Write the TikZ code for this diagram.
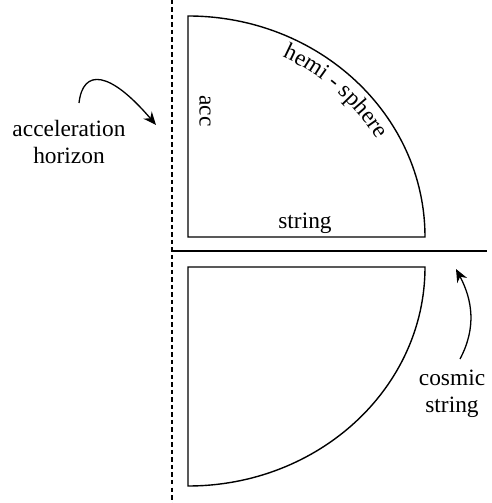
\documentclass[tikz,border=0pt]{standalone}
\usepackage{fontspec}
\setmainfont{Liberation Serif}
\usetikzlibrary{arrows.meta,decorations.text,calc}
\newcommand{\lblfont}{\fontsize{23.4}{26.5}\selectfont}
\tikzset{
  shapeline/.style={line width=1.4pt},
  horizonline/.style={line width=1.2pt,dash pattern=on 4.5pt off 3pt},
  cosmicline/.style={line width=1.3pt},
  pointer/.style={line width=1.3pt,-{Stealth[length=13pt,width=11pt]}},
  lbl/.style={inner sep=0pt,align=center},
}
\begin{document}
\begin{tikzpicture}[x=1pt,y=1pt,font=\lblfont]
\useasboundingbox (0,0) rectangle (492,503);
% lines
\coordinate (hTop) at (172,503);
\coordinate (hBot) at (172,0);
\draw[horizonline] (hTop) -- (hBot);
\coordinate (sL) at (172,252);
\coordinate (sR) at (487,252);
\draw[cosmicline] (sL) -- (sR);
% top quarter
\draw[shapeline] (188,487) -- (188,266) -- (425,266)
  arc[start angle=0,end angle=90,x radius=237,y radius=221] -- cycle;
% bottom quarter
\draw[shapeline] (188,17) -- (188,236) -- (425,236)
  arc[start angle=0,end angle=-90,x radius=237,y radius=219] -- cycle;
% labels
\node[lbl,rotate=-90] (acc) at (205,392) {acc};
\node[lbl,anchor=base] (str) at (305,274) {string};
\path[decorate,decoration={text along path,text={|\lblfont|hemi - sphere},text align=center}]
  ($(188,266)+(84:216 and 200)$) arc[start angle=84,end angle=8,x radius=216,y radius=200];
\node[lbl] (ah) at (69,361) {acceleration\\horizon};
\node[lbl] (cs) at (452,109) {cosmic\\string};
% arrows
\coordinate (a1) at (79,400);
\coordinate (a2) at (156,378);
\draw[pointer] (a1) .. controls (83,435) and (110,432) .. (a2);
\coordinate (c1) at (460,144);
\coordinate (c2) at (456,234);
\draw[pointer] (c1) to[out=62,in=-62] (c2);
\end{tikzpicture}
\end{document}
